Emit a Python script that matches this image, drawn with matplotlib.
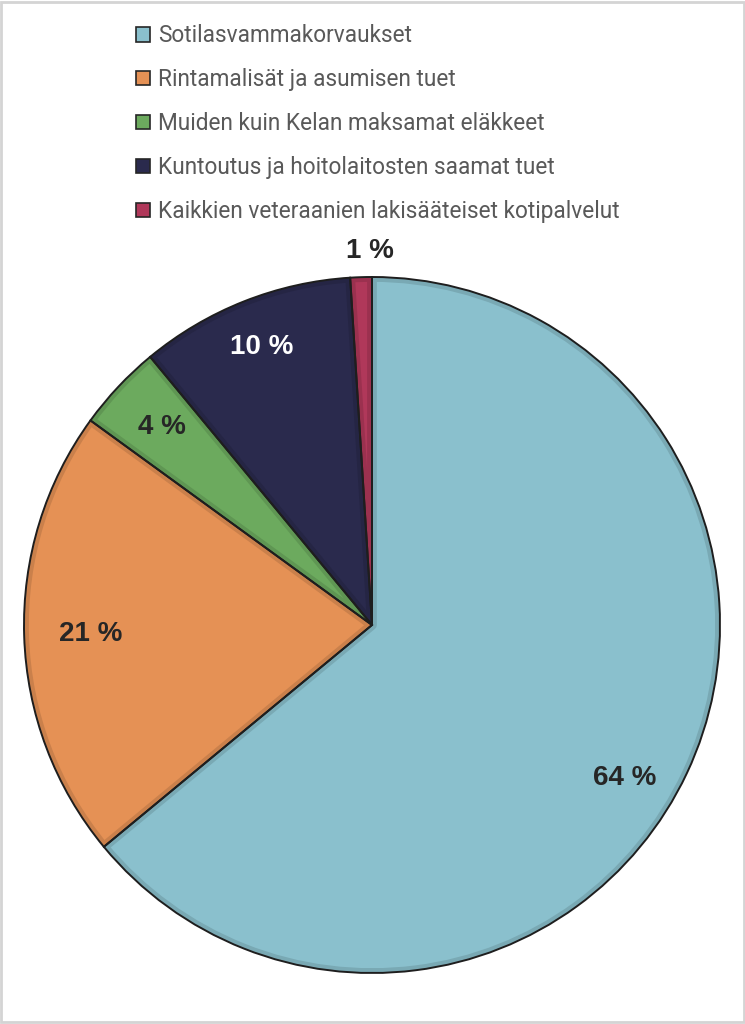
import numpy as np
import matplotlib
matplotlib.use("Agg")
import matplotlib.pyplot as plt
from matplotlib.patches import Patch, Rectangle
from matplotlib.colors import to_rgb

# data (clockwise from 12 o'clock)
LABELS = ["Sotilasvammakorvaukset",
          "Rintamalisät ja asumisen tuet",
          "Muiden kuin Kelan maksamat eläkkeet",
          "Kuntoutus ja hoitolaitosten saamat tuet",
          "Kaikkien veteraanien lakisääteiset kotipalvelut"]
SHARES = [64, 21, 4, 10, 1]
COLORS = ["#8AC0CD", "#E59155", "#6CAA5E", "#2A2A4D", "#B0385A"]
LABEL_R = [0.85, 0.81, 0.83, 0.86, 1.075]
LABEL_DA = [-6, 0, 0, 0, -1.5]          # nudge in degrees
LABEL_COL = ["#262626", "#262626", "#262626", "white", "#262626"]

W, H = 745, 1024
fig = plt.figure(figsize=(W / 100, H / 100), dpi=100)
ax = fig.add_axes([0, 0, 1, 1])

cx, cy, R = 372, H - 625, 348
common = dict(startangle=90, counterclock=False, center=(cx, cy), radius=R, frame=True)

# fill
wedges, _ = ax.pie(SHARES, colors=COLORS, wedgeprops=dict(linewidth=0), **common)
# slightly darker inner band on each slice, clipped to the slice
darker = [tuple(c * 0.88 for c in to_rgb(col)) for col in COLORS]
bands, _ = ax.pie(SHARES, colors=COLORS,
                  wedgeprops=dict(linewidth=7, fill=False, joinstyle="round"), **common)
for b, w, d in zip(bands, wedges, darker):
    b.set_edgecolor(d)
    b.set_clip_on(True)
    b.set_clip_path(w.get_path(), w.get_transform())
# dark outline
ax.pie(SHARES, colors=COLORS,
       wedgeprops=dict(linewidth=1.4, edgecolor="#1e1e1e", fill=False), **common)
ax.set_xlim(0, W)
ax.set_ylim(0, H)
ax.axis("off")

for w, share, r, da, tc in zip(wedges, SHARES, LABEL_R, LABEL_DA, LABEL_COL):
    mid = np.deg2rad((w.theta1 + w.theta2) / 2 + da)
    ax.text(cx + r * R * np.cos(mid), cy + r * R * np.sin(mid), f"{share} %",
            ha="center", va="center", fontsize=20, fontweight="bold",
            color=tc, family="Liberation Sans")

leg_font = dict(family="Roboto", size=16.3)

handles = [Patch(facecolor=c, edgecolor="#262626", linewidth=1.2) for c in COLORS]
fig.legend(handles, LABELS, loc="upper left",
           bbox_to_anchor=(116 / W, 1 - 4 / H), frameon=False,
           labelcolor="#595959", handlelength=0.6, handleheight=0.6,
           handletextpad=0.35, labelspacing=0.92, prop=leg_font)

# light grey frame around the image
fig.patches.append(Rectangle((0.002, 0.0015), 0.996, 0.997, transform=fig.transFigure,
                             fill=False, edgecolor="#d4d4d4", linewidth=2))

fig.savefig("out.png", dpi=100, facecolor="white")
